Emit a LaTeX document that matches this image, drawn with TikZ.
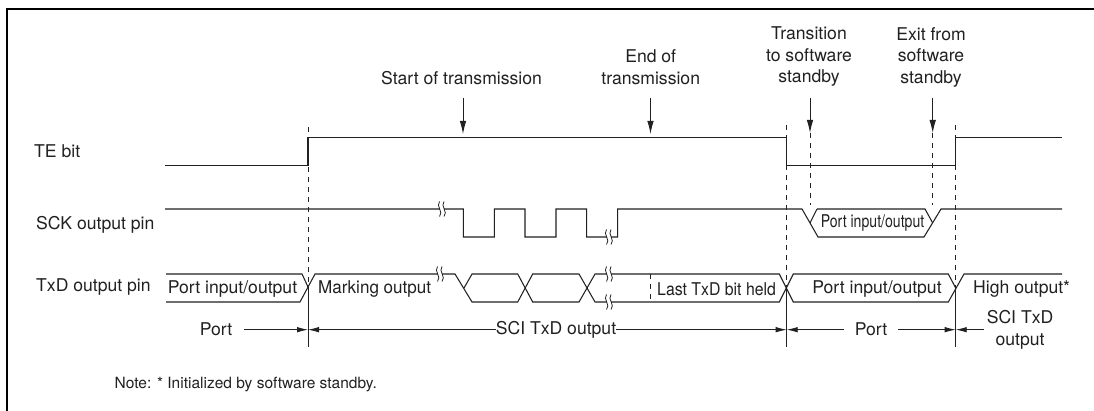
\documentclass[tikz,border=0pt]{standalone}
\usepackage{fontspec}
\setmainfont{TeX Gyre Heros}
\usetikzlibrary{arrows.meta}
\definecolor{ink}{gray}{0.13}
\tikzset{
  sig/.style={draw=ink,line width=1.05pt,line join=miter},
  dash guide/.style={draw=ink,line width=0.9pt,dash pattern=on 5pt off 5pt},
  guide/.style={draw=ink,line width=0.9pt},
  dim/.style={draw=ink,line width=0.8pt,-{Latex[length=11pt,width=5.5pt]}},
  mark arrow/.style={draw=ink,line width=0.9pt,-{Latex[length=13pt,width=6.5pt]}},
  txt/.style={inner sep=0pt,font=\fontsize{17.6}{21.5}\selectfont,text=ink},
  tall/.style={txt,align=center},
  brk/.pic={
    \fill[white] (-1.5,-5) rectangle (2.5,5);
    \draw[ink,line width=0.8pt] (-2,-7.5) .. controls (-6,-3) and (2.5,3) .. (-2,7.5) (2.5,-7.5) .. controls (-1.5,-3) and (7,3) .. (2.5,7.5);}
}
\begin{document}
\begin{tikzpicture}[x=1pt,y=-1pt]
\useasboundingbox (0,0) rectangle (1094,411);
\fill[white] (0,0) rectangle (1094,411);
\draw[black,line width=2pt] (7,411) -- (7,8.8) -- (1094,8.8);
% guides
\coordinate (a1) at (308,127); \coordinate (a2) at (308,288); \coordinate (a3) at (308,347);
\coordinate (b1) at (786.7,125); \coordinate (b2) at (786.7,288); \coordinate (b3) at (786.7,347);
\coordinate (c1) at (955.7,125); \coordinate (c2) at (955.7,288); \coordinate (c3) at (955.7,347);
\foreach \p/\q/\r in {a1/a2/a3,b1/b2/b3,c1/c2/c3}{
  \path[dash guide] (\p) -- (\q);
  \path[guide] (\q) -- (\r);
}
\coordinate (d1) at (810,133); \coordinate (d2) at (810,205);
\coordinate (e1) at (932.7,133); \coordinate (e2) at (932.7,205);
\path[dash guide] (d1) -- (d2);
\path[dash guide] (e1) -- (e2);
% TE
\path[sig] (165,165.7) -- (308,165.7) -- (308,137.7) -- (786.7,137.7) -- (786.7,165.7) -- (955.7,165.7) -- (955.7,137.7) -- (1062,137.7);
% SCK
\path[sig] (165,209) -- (463.3,209) -- (463.3,237) -- (494.3,237) -- (494.3,209) -- (525,209) -- (525,237) -- (556,237) -- (556,209) -- (586.7,209) -- (586.7,237) -- (617.7,237) -- (617.7,209) -- (802,209) -- (818,237) -- (924,237) -- (941,209) -- (1062,209);
\path[sig] (817,209) -- (810,223);
\path[sig] (817,209) -- (925,209) -- (932.7,223);
\pic at (441.5,209) {brk};
\pic at (608.5,237) {brk};
% TxD
\path[sig] (166,274) -- (302,274) -- (308.5,288);
\path[sig] (166,302) -- (300,302) -- (315,274) -- (455,274) -- (472,302) -- (517.7,302) -- (532.7,274) -- (579,274) -- (595,302) -- (779.3,302) -- (793.3,274) -- (948.3,274) -- (955.7,288);
\path[sig] (464,288) -- (472,274) -- (517.7,274) -- (532.7,302) -- (579,302) -- (595,274) -- (779.3,274) -- (793.3,302) -- (948.3,302) -- (964,274) -- (1062,274);
\pic at (439.5,274) {brk};
\pic at (608.5,274) {brk};
\pic at (608.5,302) {brk};
\coordinate (h1) at (650,274); \coordinate (h2) at (650,302);
\path[dash guide] (h1) -- (h2);
% labels left
\node[txt,anchor=west] (te) at (34,151) {TE bit};
\node[txt,anchor=west] (sck) at (36,224.5) {SCK output pin};
\node[txt,anchor=west] (txd) at (36,287) {TxD output pin};
% waveform texts
\node[txt] (t1) at (232.5,289) {Port input/output};
\node[txt,anchor=west] (t2) at (318,289) {\scalebox{0.97}[1]{Marking output}};
\node[txt,anchor=west] (t3) at (657,289) {\scalebox{0.9}[1]{Last TxD bit held}};
\node[txt] (t4) at (877,289) {Port input/output};
\node[txt,anchor=west] (t5) at (973,289) {High output*};
\node[txt] (t6) at (872.5,223) {\scalebox{0.8}[1]{Port input/output}};
% dimension row
\node[txt] (p1) at (216,329.7) {Port};
\node[txt] (s1) at (556,329.7) {SCI TxD output};
\node[txt] (p2) at (871,329.7) {Port};
\node[tall] (s2) at (1020,329.7) {SCI TxD\\output};
\draw[dim] (p1.east) ++(12,0) -- (a2 |- p1);
\draw[dim] (s1.west) -- (a2 |- s1);
\draw[dim] (s1.east) -- (b2 |- s1);
\draw[dim] (p2.west) ++(-11,0) -- (b2 |- p2);
\draw[dim] (p2.east) ++(11,0) -- (c2 |- p2);
\draw[dim] (s2.west |- p2) ++(-3,0) -- (c2 |- p2);
% top
\node[txt] (m1) at (461.5,78) {Start of transmission};
\node[tall] (m2) at (650.7,67) {End of\\transmission};
\node[tall] (m3) at (809,57) {Transition\\to software\\standby};
\node[tall] (m4) at (931,57) {Exit from\\software\\standby};
\coordinate (f1) at (463,97.7); \coordinate (f2) at (463,134);
\coordinate (g1) at (650.5,97.7); \coordinate (g2) at (650.5,134);
\coordinate (d0) at (810,97.7); \coordinate (e0) at (932.7,97.7);
\draw[mark arrow] (f1) -- (f2);
\draw[mark arrow] (g1) -- (g2);
\draw[mark arrow] (d0) -- (d1);
\draw[mark arrow] (e0) -- (e1);
\node[txt,anchor=west,font=\fontsize{15.5}{18}\selectfont] (note) at (114.5,385) {Note: * Initialized by software standby.};
\end{tikzpicture}
\end{document}
